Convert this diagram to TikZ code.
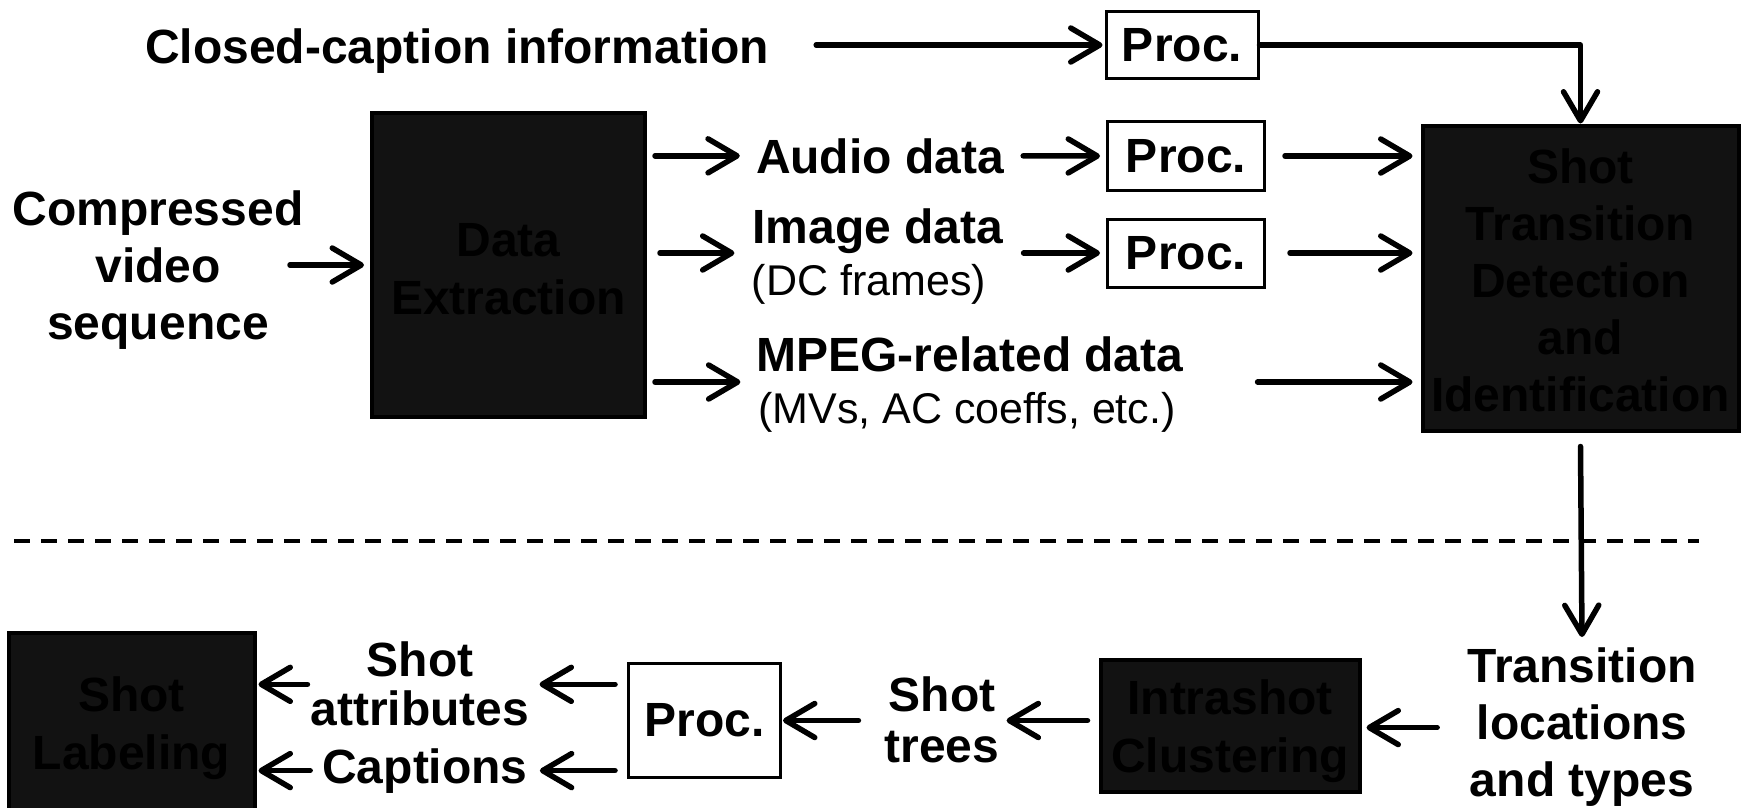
\documentclass[tikz,border=0pt]{standalone}
\usepackage{fontspec}
\setmainfont{Liberation Sans}
\usetikzlibrary{arrows.meta,calc}
\definecolor{boxfill}{HTML}{121212}
\tikzset{
  lbl/.style={font=\fontsize{48}{55}\selectfont\bfseries, inner sep=0pt, align=center},
  sublbl/.style={font=\fontsize{43}{50}\selectfont, inner sep=0pt},
  procbox/.style={draw=black, line width=3pt, fill=white, inner sep=0pt,
    font=\fontsize{48}{55}\selectfont\bfseries},
  darkbox/.style={draw=black, line width=4pt, fill=boxfill, text=black, inner sep=0pt,
    align=center},
  arr/.style={line width=5.5pt, line cap=round, line join=round,
    -{Straight Barb[length=29pt,width=34pt,round]}},
  divider/.style={line width=4.5pt, dash pattern=on 16pt off 11pt},
}
\begin{document}
\begin{tikzpicture}[x=1pt,y=-1pt]
\useasboundingbox (0,0) rectangle (1741,807);

% ---- upper part: extraction and shot transition detection ----
\node[lbl, anchor=base] (cc) at (457,63) {Closed-caption information};
\node[procbox, minimum width=152pt, minimum height=67pt] (proc0) at (1182,45) {Proc.};

\node[lbl, anchor=north, font=\fontsize{48}{57}\selectfont\bfseries] (cvs) at (158,191)
  {Compressed\\video\\sequence};
\coordinate (cvsout) at (290,265);

\node[darkbox, minimum width=273pt, minimum height=304pt,
  font=\fontsize{48}{58}\selectfont\bfseries] (de) at (508.5,265)
  {\rule{0pt}{42pt}Data\\Extraction};

\node[lbl, anchor=base] (aud) at (880,173) {Audio data};
\node[procbox, minimum width=157pt, minimum height=69pt] (proc1) at (1186,156) {Proc.};

\node[lbl, anchor=base] (img) at (878,243) {Image data};
\node[sublbl, anchor=base] (dcf) at (869,295) {(DC frames)};
\node[procbox, minimum width=157pt, minimum height=68pt] (proc2) at (1186,253) {Proc.};

\node[lbl, anchor=base] (mpg) at (970,371) {MPEG-related data};
\node[sublbl, anchor=base] (mvs) at (967,423) {(MVs, AC coeffs, etc.)};
\coordinate (mrow) at (0,382);

\node[darkbox, minimum width=316pt, minimum height=305pt,
  font=\fontsize{48}{57}\selectfont\bfseries] (std) at (1580.5,278)
  {\rule{0pt}{39pt}Shot\\Transition\\Detection\\and\\Identification};

% ---- connectors, upper part ----
\draw[arr] (cvsout) -- ([xshift=-6pt]de.west);
\draw[arr] ([xshift=8pt]de.east |- aud) -- ([xshift=-16pt]aud.west);
\draw[arr] ([xshift=19pt]aud.east) -- ([xshift=-6pt]proc1.west);
\draw[arr] ([xshift=19pt]proc1.east) -- ([xshift=-8pt]std.west |- proc1);
\draw[arr] ([xshift=13pt]de.east |- proc2) -- ([xshift=-18pt]img.west |- proc2);
\draw[arr] ([xshift=20pt]img.east |- proc2) -- ([xshift=-6pt]proc2.west);
\draw[arr] ([xshift=24pt]proc2.east) -- ([xshift=-8pt]std.west |- proc2);
\draw[arr] ([xshift=8pt]de.east |- mrow) -- ([xshift=-16pt]mpg.west |- mrow);
\draw[arr] ([xshift=74pt]mpg.east |- mrow) -- ([xshift=-8pt]std.west |- mrow);
\draw[arr] ([xshift=47pt]cc.east |- proc0) -- ([xshift=-2pt]proc0.west);
\draw[arr] (proc0.east) -| (std.north);

% ---- separator ----
\draw[divider] (14,541) -- (1699,541);

% ---- lower part: clustering and labeling ----
\node[lbl, anchor=north, font=\fontsize{48}{57}\selectfont\bfseries] (tl) at (1582,648)
  {Transition\\locations\\and types};
\node[darkbox, minimum width=259pt, minimum height=132pt,
  font=\fontsize{48}{58}\selectfont\bfseries] (ic) at (1230,725.5)
  {\rule{0pt}{46pt}Intrashot\\Clustering};
\node[lbl, anchor=north, font=\fontsize{48}{51}\selectfont\bfseries] (trees) at (942,677)
  {Shot\\trees};
\node[procbox, minimum width=152pt, minimum height=114pt] (proc3) at (704.5,720.5) {Proc.};
\node[lbl, anchor=north, font=\fontsize{48}{49}\selectfont\bfseries] (attrs) at (420,642)
  {Shot\\attributes};
\node[lbl, anchor=base] (capt) at (425,783) {Captions};
\node[darkbox, minimum width=246pt, minimum height=187pt,
  font=\fontsize{48}{58}\selectfont\bfseries] (sl) at (131.5,726)
  {\rule{0pt}{40pt}Shot\\Labeling};

% ---- connectors, lower part ----
\draw[arr] ([yshift=-14pt]std.south) -- ([yshift=11pt]tl.north);
\draw[arr] ([xshift=-30pt]tl.west) -- ([xshift=5pt]ic.east |- tl.west);
\draw[arr] ([xshift=-11pt]ic.west |- proc3) -- ([xshift=7pt]trees.east |- proc3);
\draw[arr] ([xshift=-26pt]trees.west |- proc3) -- ([xshift=1pt]proc3.east);
\draw[arr] ([xshift=-12pt]proc3.west |- attrs) -- ([xshift=10pt]attrs.east);
\draw[arr] ([xshift=-12pt]proc3.west |- capt) -- ([xshift=12pt]capt.east);
\draw[arr] ([xshift=-3pt]attrs.west) -- ([xshift=2pt]sl.east |- attrs);
\draw[arr] ([xshift=-12pt]capt.west) -- ([xshift=2pt]sl.east |- capt);
\end{tikzpicture}
\end{document}
